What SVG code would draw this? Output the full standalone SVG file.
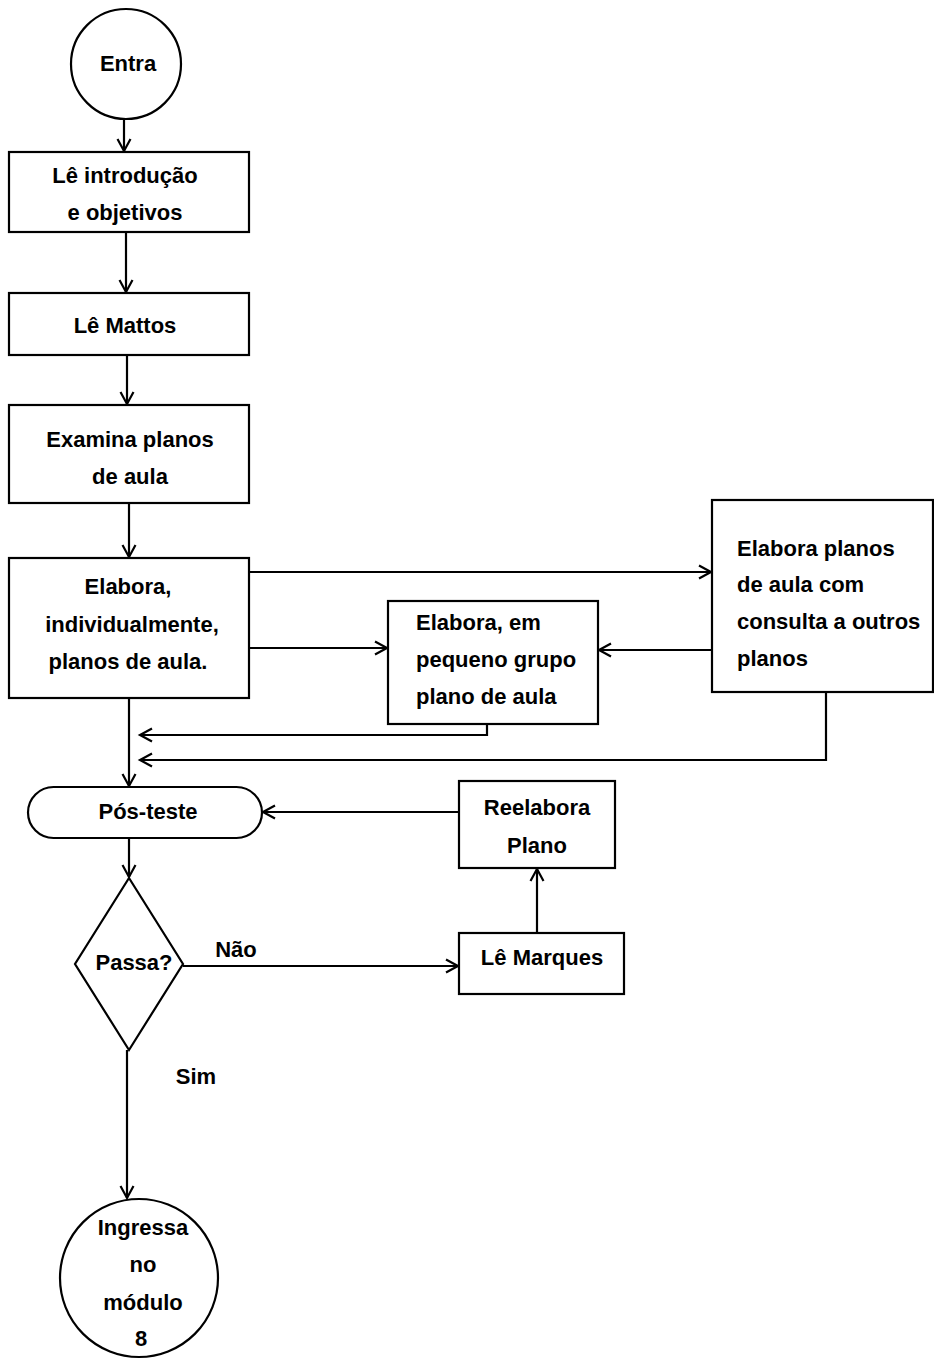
<svg xmlns="http://www.w3.org/2000/svg" width="934" height="1359" viewBox="0 0 934 1359">
<style>
.s{fill:#fff;stroke:#000;stroke-width:2.2}
.t{font-family:"Liberation Sans",Arial,sans-serif;font-size:22px;font-weight:bold;fill:#000;text-anchor:middle}
.l{text-anchor:start}
.c{fill:none;stroke:#000;stroke-width:2.2}
</style>
<defs>
<marker id="a" markerWidth="16" markerHeight="16" refX="13" refY="8" orient="auto" markerUnits="userSpaceOnUse">
<path d="M1,1.5 L13,8 L1,14.5" fill="none" stroke="#000" stroke-width="2.2"/>
</marker>
</defs>
<rect width="934" height="1359" fill="#fff"/>
<g id="connectors">
<path class="c" d="M124,118 V151" marker-end="url(#a)"/>
<path class="c" d="M126,232 V292" marker-end="url(#a)"/>
<path class="c" d="M127,355 V404" marker-end="url(#a)"/>
<path class="c" d="M129,503 V557" marker-end="url(#a)"/>
<path class="c" d="M129,698 V786" marker-end="url(#a)"/>
<path class="c" d="M249,572 H711" marker-end="url(#a)"/>
<path class="c" d="M249,648 H387" marker-end="url(#a)"/>
<path class="c" d="M712,650 H599" marker-end="url(#a)"/>
<path class="c" d="M487,724 V735 H140" marker-end="url(#a)"/>
<path class="c" d="M826,692 V760 H140" marker-end="url(#a)"/>
<path class="c" d="M459,812 H263" marker-end="url(#a)"/>
<path class="c" d="M129,838 V877" marker-end="url(#a)"/>
<path class="c" d="M183,966 H458" marker-end="url(#a)"/>
<path class="c" d="M537,933 V869" stroke-width="3" marker-end="url(#a)"/>
<path class="c" d="M127,1050 V1198" marker-end="url(#a)"/>
<text class="t" x="236" y="957">Não</text>
<text class="t" x="196" y="1084">Sim</text>
</g>
<g id="entra">
<circle class="s" cx="126" cy="64" r="55"/>
<text class="t" x="128" y="71">Entra</text>
</g>
<g id="le-introducao">
<rect class="s" x="9" y="152" width="240" height="80"/>
<text class="t" x="125" y="183">Lê introdução</text>
<text class="t" x="125" y="220">e objetivos</text>
</g>
<g id="le-mattos">
<rect class="s" x="9" y="293" width="240" height="62"/>
<text class="t" x="125" y="333">Lê Mattos</text>
</g>
<g id="examina">
<rect class="s" x="9" y="405" width="240" height="98"/>
<text class="t" x="130" y="447">Examina planos</text>
<text class="t" x="130" y="484">de aula</text>
</g>
<g id="elabora-ind">
<rect class="s" x="9" y="558" width="240" height="140"/>
<text class="t" x="128" y="594">Elabora,</text>
<text class="t" x="132" y="632">individualmente,</text>
<text class="t" x="128" y="669">planos de aula.</text>
</g>
<g id="elabora-grupo">
<rect class="s" x="388" y="601" width="210" height="123"/>
<text class="t l" x="416" y="630">Elabora, em</text>
<text class="t l" x="416" y="667">pequeno grupo</text>
<text class="t l" x="416" y="704">plano de aula</text>
</g>
<g id="elabora-consulta">
<rect class="s" x="712" y="500" width="221" height="192"/>
<text class="t l" x="737" y="556">Elabora planos</text>
<text class="t l" x="737" y="592">de aula com</text>
<text class="t l" x="737" y="629">consulta a outros</text>
<text class="t l" x="737" y="666">planos</text>
</g>
<g id="pos-teste">
<rect class="s" x="28" y="787" width="234" height="51" rx="25.5"/>
<text class="t" x="148" y="819">Pós-teste</text>
</g>
<g id="reelabora">
<rect class="s" x="459" y="781" width="156" height="87"/>
<text class="t" x="537" y="815">Reelabora</text>
<text class="t" x="537" y="853">Plano</text>
</g>
<g id="le-marques">
<rect class="s" x="459" y="933" width="165" height="61"/>
<text class="t" x="542" y="965">Lê Marques</text>
</g>
<g id="passa">
<polygon class="s" points="129,878 183,964 129,1050 75,964"/>
<text class="t" x="134" y="970">Passa?</text>
</g>
<g id="ingressa">
<circle class="s" cx="139" cy="1278" r="79"/>
<text class="t" x="143" y="1235">Ingressa</text>
<text class="t" x="143" y="1272">no</text>
<text class="t" x="143" y="1310">módulo</text>
<text class="t" x="141" y="1346">8</text>
</g>
</svg>
